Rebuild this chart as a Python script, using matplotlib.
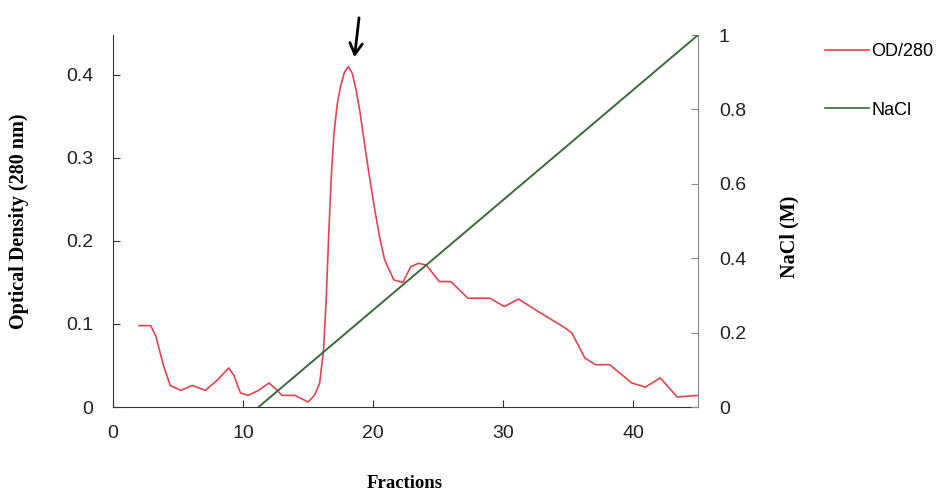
import matplotlib
matplotlib.use("Agg")
import matplotlib.pyplot as plt
from matplotlib.lines import Line2D

# OD at 280 nm
fractions = [2.0, 2.9, 3.3, 3.9, 4.4, 5.2, 6.1, 7.1, 8.0, 8.9, 9.3, 9.8, 10.4,
             11.2, 12.0, 12.5, 13.0, 14.0, 14.5, 15.0, 15.5, 15.9, 16.2, 16.4,
             16.6, 16.8, 17.0, 17.25, 17.5, 17.8, 18.1, 18.4, 18.7, 19.0, 19.3,
             19.7, 20.1, 20.5, 20.9, 21.6, 22.3, 22.9, 23.5, 24.1, 25.1, 26.0,
             27.3, 29.0, 30.1, 31.2, 32.5, 34.8, 35.3, 36.3, 37.1, 38.2, 39.9,
             40.95, 42.1, 43.4, 45.0]
od280 = [0.098, 0.098, 0.085, 0.049, 0.026, 0.020, 0.026, 0.020, 0.032, 0.047,
         0.038, 0.017, 0.014, 0.020, 0.029, 0.022, 0.014, 0.014, 0.010, 0.006,
         0.014, 0.029, 0.069, 0.13, 0.21, 0.28, 0.33, 0.365, 0.386, 0.403,
         0.41, 0.402, 0.382, 0.355, 0.322, 0.28, 0.241, 0.205, 0.177, 0.153,
         0.150, 0.169, 0.173, 0.171, 0.151, 0.151, 0.131, 0.131, 0.121, 0.130,
         0.117, 0.095, 0.089, 0.059, 0.051, 0.051, 0.029, 0.024, 0.035, 0.012,
         0.014]

# NaCl gradient
nacl_x = [11.2, 45.0]
nacl_m = [0.0, 1.0]

x_ticks = [0, 10, 20, 30, 40]
od_ticks = [0, 0.1, 0.2, 0.3, 0.4]
od_labels = ["0", "0.1", "0.2", "0.3", "0.4"]
nacl_ticks = [0, 0.2, 0.4, 0.6, 0.8, 1.0]
nacl_labels = ["0", "0.2", "0.4", "0.6", "0.8", "1"]

red = "#e4434f"
green = "#3a6a3a"

fig = plt.figure(figsize=(9.45, 4.93), dpi=100)
ax = fig.add_axes([113/945, 1-407/493, 585/945, 372/493])
ax2 = ax.twinx()

ax.plot(fractions, od280, color=red, lw=1.2)
ax2.plot(nacl_x, nacl_m, color=green, lw=1.4)

ax.set_xlim(0, 45)
ax.set_ylim(0, 0.448)
ax2.set_ylim(0, 1)

ax.set_xticks(x_ticks)
ax.set_yticks(od_ticks)
ax.set_yticklabels(od_labels)
ax2.set_yticks(nacl_ticks)
ax2.set_yticklabels(nacl_labels)

for a in (ax, ax2):
    a.spines["top"].set_visible(False)
    for lab in a.get_xticklabels() + a.get_yticklabels():
        lab.set_fontfamily("Liberation Sans")
        lab.set_fontsize(14)
ax.spines["right"].set_visible(False)
ax.spines["left"].set_color("#333333")
ax.spines["bottom"].set_color("#333333")
ax2.spines["left"].set_visible(False)
ax2.spines["bottom"].set_visible(False)
ax2.spines["right"].set_color("#888888")
ax.tick_params(axis="x", direction="in", length=5, pad=13, colors="#333333", labelcolor="#222222")
ax.tick_params(axis="y", direction="in", length=5, pad=14, colors="#333333", labelcolor="#222222")
ax2.tick_params(axis="y", direction="in", length=5, pad=15, colors="#888888", labelcolor="#222222")

# arrow marking the main peak
ax.annotate("", xy=(18.55, 0.418), xytext=(18.95, 0.472),
            arrowprops=dict(arrowstyle="->,head_length=0.8,head_width=0.45",
                            color="black", lw=2),
            annotation_clip=False)

serif = dict(family="Liberation Serif", weight="bold", fontsize=14.5)
fig.text(19/945, 1-221/493, "Optical Density (280 nm)", rotation=90,
         ha="center", va="center", **serif)
fig.text(789/945, 1-237/493, "NaCl (M)", rotation=90,
         ha="center", va="center", **serif)
fig.text(405/945, 1-484/493, "Fractions", ha="center", va="center",
         family="Liberation Serif", weight="bold", fontsize=13.5)

handles = [Line2D([], [], color=red, lw=1.2), Line2D([], [], color=green, lw=1.2)]
leg = fig.legend(handles, ["OD/280", "NaCl"], loc="upper left",
                 bbox_to_anchor=(809/945, 1-27/493), frameon=False,
                 prop=dict(family="Liberation Sans", size=13),
                 handlelength=2.4, handletextpad=0.15, labelspacing=2.3)

fig.savefig("out.png", dpi=100)
